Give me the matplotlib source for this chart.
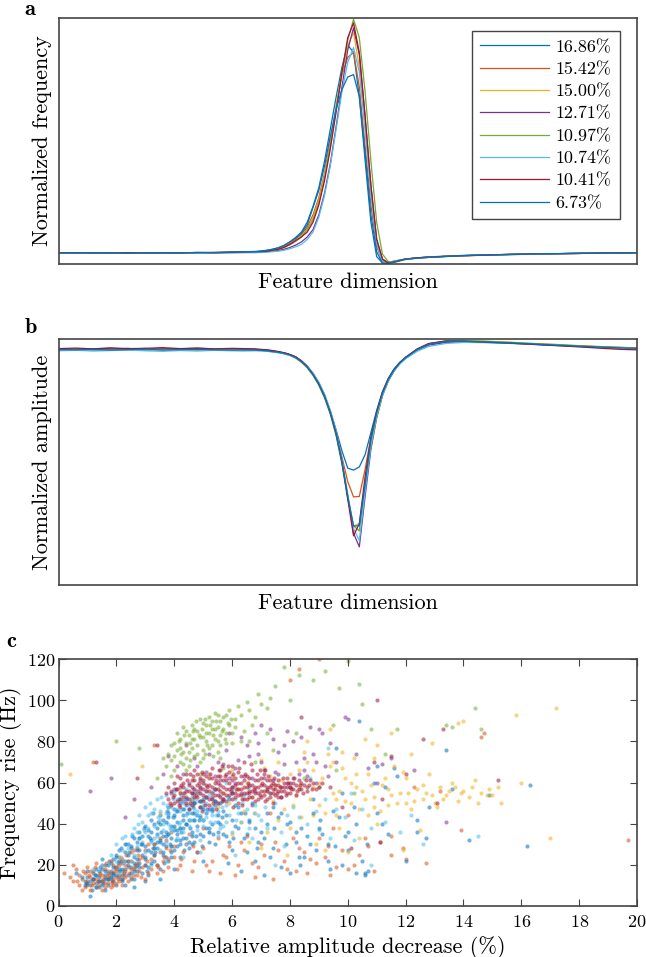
import matplotlib
matplotlib.use("Agg")
import numpy as np
import matplotlib.pyplot as plt

plt.rcParams["font.family"] = ["cmr10", "DejaVu Serif"]
plt.rcParams["mathtext.fontset"] = "cm"
plt.rcParams["axes.unicode_minus"] = False
plt.rcParams["axes.formatter.use_mathtext"] = True

# matlab default colour order, 8th series wraps back to blue
colors = ["#0072BD", "#D95319", "#EDB120", "#7E2F8E", "#77AC30", "#4DBEEE", "#A2142F", "#0072BD"]
labels = ["16.86%", "15.42%", "15.00%", "12.71%", "10.97%", "10.74%", "10.41%", "6.73%"]

# feature dimension sample positions (shared by panels a and b)
feat = [0, 3, 6, 9, 12, 15, 18, 21, 24, 27, 30, 32,
        34, 35, 36, 37, 38, 39, 40, 41, 42, 43, 44, 45, 46, 47, 48, 49, 50,
        51, 52, 53, 54, 55, 56, 57, 58, 59, 60,
        62, 64, 67, 70, 74, 78, 82, 86, 90, 94, 97, 100]

# panel a: normalized frequency
freq_1686 = [0.045, 0.046, 0.044, 0.046, 0.045, 0.044, 0.046, 0.045, 0.047, 0.046, 0.049, 0.050,
             0.051, 0.053, 0.056, 0.060, 0.066, 0.075, 0.090, 0.108, 0.130, 0.170, 0.235, 0.310, 0.420, 0.550, 0.680,
             0.800, 0.890, 0.860, 0.680, 0.420, 0.170, 0.030, 0.004, 0.006, 0.012, 0.016, 0.020,
             0.024, 0.027, 0.031, 0.034, 0.037, 0.039, 0.041, 0.042, 0.043, 0.044, 0.045, 0.046]
freq_1542 = [0.046, 0.045, 0.045, 0.044, 0.046, 0.045, 0.045, 0.046, 0.046, 0.047, 0.048, 0.049,
             0.050, 0.051, 0.053, 0.057, 0.062, 0.070, 0.084, 0.100, 0.120, 0.150, 0.200, 0.270, 0.370, 0.500, 0.640,
             0.770, 0.840, 0.860, 0.720, 0.480, 0.240, 0.070, 0.012, 0.005, 0.010, 0.016, 0.020,
             0.025, 0.028, 0.031, 0.033, 0.036, 0.039, 0.040, 0.042, 0.043, 0.044, 0.045, 0.045]
freq_1500 = [0.044, 0.045, 0.046, 0.045, 0.044, 0.045, 0.046, 0.046, 0.045, 0.047, 0.047, 0.048,
             0.049, 0.050, 0.052, 0.055, 0.060, 0.068, 0.080, 0.095, 0.115, 0.140, 0.190, 0.260, 0.360, 0.490, 0.630,
             0.770, 0.890, 0.940, 0.800, 0.550, 0.290, 0.090, 0.016, 0.006, 0.010, 0.015, 0.020,
             0.024, 0.028, 0.032, 0.034, 0.036, 0.038, 0.041, 0.042, 0.044, 0.044, 0.045, 0.046]
freq_1271 = [0.045, 0.044, 0.045, 0.046, 0.045, 0.046, 0.044, 0.045, 0.046, 0.045, 0.046, 0.047,
             0.047, 0.048, 0.050, 0.052, 0.055, 0.060, 0.067, 0.077, 0.090, 0.110, 0.140, 0.200, 0.290, 0.410, 0.560,
             0.720, 0.870, 0.960, 0.850, 0.600, 0.320, 0.100, 0.020, 0.005, 0.008, 0.014, 0.020,
             0.025, 0.029, 0.032, 0.035, 0.037, 0.039, 0.040, 0.042, 0.043, 0.044, 0.044, 0.045]
freq_1097 = [0.046, 0.045, 0.044, 0.045, 0.045, 0.046, 0.045, 0.044, 0.046, 0.046, 0.047, 0.047,
             0.048, 0.050, 0.053, 0.056, 0.060, 0.067, 0.078, 0.092, 0.110, 0.140, 0.180, 0.250, 0.350, 0.480, 0.630,
             0.780, 0.910, 0.995, 0.920, 0.700, 0.420, 0.170, 0.040, 0.010, 0.006, 0.012, 0.018,
             0.023, 0.027, 0.030, 0.034, 0.036, 0.038, 0.040, 0.041, 0.043, 0.044, 0.045, 0.046]
freq_1074 = [0.044, 0.045, 0.045, 0.044, 0.045, 0.044, 0.045, 0.046, 0.045, 0.045, 0.046, 0.046,
             0.046, 0.047, 0.048, 0.050, 0.052, 0.056, 0.062, 0.070, 0.080, 0.100, 0.130, 0.190, 0.280, 0.400, 0.550,
             0.700, 0.820, 0.880, 0.780, 0.550, 0.280, 0.080, 0.010, 0.002, 0.008, 0.014, 0.020,
             0.024, 0.028, 0.031, 0.034, 0.037, 0.038, 0.040, 0.042, 0.043, 0.044, 0.045, 0.045]
freq_1041 = [0.046, 0.046, 0.045, 0.045, 0.046, 0.045, 0.046, 0.045, 0.047, 0.046, 0.048, 0.049,
             0.050, 0.050, 0.052, 0.056, 0.060, 0.068, 0.080, 0.095, 0.110, 0.130, 0.170, 0.240, 0.340, 0.470, 0.620,
             0.780, 0.920, 0.980, 0.860, 0.600, 0.320, 0.100, 0.020, 0.004, 0.008, 0.014, 0.020,
             0.025, 0.028, 0.031, 0.034, 0.036, 0.039, 0.041, 0.042, 0.043, 0.045, 0.045, 0.046]
freq_673 = [0.045, 0.045, 0.046, 0.045, 0.044, 0.045, 0.045, 0.046, 0.046, 0.047, 0.048, 0.050,
            0.050, 0.052, 0.055, 0.060, 0.066, 0.076, 0.090, 0.105, 0.125, 0.160, 0.230, 0.300, 0.400, 0.520, 0.630,
            0.710, 0.760, 0.770, 0.680, 0.450, 0.200, 0.050, 0.003, 0.002, 0.008, 0.014, 0.020,
            0.024, 0.027, 0.031, 0.034, 0.037, 0.039, 0.041, 0.042, 0.044, 0.044, 0.045, 0.046]

# panel b: normalized amplitude
amp_1686 = [0.957, 0.960, 0.955, 0.958, 0.962, 0.956, 0.959, 0.961, 0.957, 0.960, 0.958, 0.955,
            0.956, 0.955, 0.953, 0.950, 0.947, 0.943, 0.936, 0.926, 0.910, 0.888, 0.858, 0.820, 0.770, 0.705, 0.630,
            0.545, 0.475, 0.467, 0.480, 0.530, 0.620, 0.710, 0.785, 0.840, 0.878, 0.905, 0.925,
            0.958, 0.978, 0.988, 0.990, 0.986, 0.983, 0.979, 0.975, 0.970, 0.967, 0.964, 0.962]
amp_1542 = [0.960, 0.958, 0.961, 0.957, 0.959, 0.962, 0.958, 0.960, 0.963, 0.959, 0.957, 0.959,
            0.958, 0.956, 0.954, 0.951, 0.947, 0.942, 0.935, 0.925, 0.908, 0.886, 0.855, 0.816, 0.765, 0.700, 0.620,
            0.520, 0.420, 0.358, 0.360, 0.470, 0.600, 0.700, 0.780, 0.835, 0.875, 0.903, 0.924,
            0.957, 0.980, 0.991, 0.992, 0.989, 0.985, 0.980, 0.976, 0.971, 0.968, 0.966, 0.963]
amp_1500 = [0.956, 0.958, 0.960, 0.955, 0.957, 0.959, 0.956, 0.958, 0.957, 0.961, 0.956, 0.955,
            0.955, 0.954, 0.952, 0.949, 0.946, 0.941, 0.934, 0.923, 0.906, 0.884, 0.853, 0.813, 0.762, 0.695, 0.610,
            0.500, 0.360, 0.240, 0.250, 0.420, 0.580, 0.690, 0.775, 0.832, 0.873, 0.902, 0.923,
            0.956, 0.979, 0.992, 0.993, 0.990, 0.986, 0.981, 0.977, 0.972, 0.968, 0.965, 0.963]
amp_1271 = [0.959, 0.957, 0.960, 0.962, 0.958, 0.956, 0.960, 0.957, 0.959, 0.958, 0.960, 0.958,
            0.957, 0.956, 0.955, 0.952, 0.948, 0.944, 0.937, 0.928, 0.912, 0.890, 0.860, 0.822, 0.772, 0.705, 0.620,
            0.500, 0.360, 0.210, 0.155, 0.360, 0.550, 0.680, 0.770, 0.830, 0.870, 0.900, 0.922,
            0.953, 0.975, 0.986, 0.989, 0.987, 0.984, 0.979, 0.974, 0.970, 0.966, 0.963, 0.961]
amp_1097 = [0.955, 0.957, 0.954, 0.958, 0.956, 0.955, 0.958, 0.956, 0.954, 0.957, 0.956, 0.954,
            0.954, 0.953, 0.951, 0.948, 0.945, 0.940, 0.933, 0.922, 0.905, 0.883, 0.852, 0.812, 0.760, 0.693, 0.605,
            0.490, 0.350, 0.240, 0.220, 0.400, 0.560, 0.680, 0.770, 0.828, 0.870, 0.900, 0.921,
            0.955, 0.980, 0.993, 0.994, 0.991, 0.987, 0.982, 0.978, 0.973, 0.969, 0.966, 0.964]
amp_1074 = [0.952, 0.954, 0.951, 0.953, 0.955, 0.952, 0.950, 0.953, 0.951, 0.954, 0.952, 0.951,
            0.952, 0.951, 0.950, 0.947, 0.944, 0.940, 0.934, 0.925, 0.910, 0.890, 0.862, 0.825, 0.776, 0.710, 0.625,
            0.510, 0.370, 0.230, 0.180, 0.380, 0.570, 0.690, 0.775, 0.830, 0.870, 0.898, 0.920,
            0.950, 0.970, 0.982, 0.986, 0.985, 0.982, 0.978, 0.974, 0.969, 0.965, 0.962, 0.960]
amp_1041 = [0.961, 0.963, 0.960, 0.964, 0.961, 0.962, 0.965, 0.961, 0.963, 0.960, 0.962, 0.961,
            0.960, 0.958, 0.956, 0.953, 0.949, 0.944, 0.937, 0.927, 0.910, 0.887, 0.856, 0.817, 0.766, 0.700, 0.615,
            0.500, 0.350, 0.200, 0.250, 0.440, 0.600, 0.705, 0.785, 0.838, 0.877, 0.905, 0.926,
            0.960, 0.982, 0.992, 0.991, 0.987, 0.983, 0.978, 0.973, 0.968, 0.962, 0.958, 0.956]
amp_673 = [0.957, 0.956, 0.958, 0.955, 0.957, 0.959, 0.955, 0.957, 0.958, 0.956, 0.955, 0.956,
           0.955, 0.954, 0.952, 0.949, 0.946, 0.942, 0.935, 0.925, 0.908, 0.886, 0.855, 0.816, 0.765, 0.698, 0.612,
           0.500, 0.360, 0.240, 0.240, 0.410, 0.590, 0.700, 0.780, 0.835, 0.875, 0.903, 0.924,
           0.957, 0.979, 0.990, 0.991, 0.988, 0.984, 0.980, 0.975, 0.971, 0.967, 0.964, 0.962]

freq_curves = [freq_1686, freq_1542, freq_1500, freq_1271, freq_1097, freq_1074, freq_1041, freq_673]
amp_curves = [amp_1686, amp_1542, amp_1500, amp_1271, amp_1097, amp_1074, amp_1041, amp_673]

# panel c: (relative amplitude decrease %, frequency rise Hz) per recording
pts_1686 = [(0.9, 12), (1.0, 14), (1.1, 10), (1.2, 13), (1.2, 16), (1.3, 11), (1.4, 14), (1.5, 12), (1.5, 18),
            (1.6, 15), (1.7, 10), (1.7, 13), (1.8, 17), (1.8, 21), (1.9, 12), (1.9, 15), (2.0, 19), (2.0, 24),
            (2.1, 14), (2.1, 17), (2.2, 21), (2.2, 12), (2.3, 18), (2.3, 26), (2.4, 15), (2.4, 22), (2.5, 19),
            (2.5, 29), (2.6, 13), (2.6, 24), (2.7, 17), (2.7, 31), (2.8, 21), (2.8, 27), (2.9, 16), (2.9, 34),
            (3.0, 23), (3.0, 29), (3.1, 19), (3.1, 37), (3.2, 26), (3.2, 32), (3.3, 22), (3.3, 40), (3.4, 28),
            (3.4, 35), (3.5, 18), (3.5, 31), (3.6, 42), (3.6, 25), (3.7, 36), (3.7, 29), (3.8, 45), (3.8, 22),
            (3.9, 33), (3.9, 39), (4.0, 27), (4.0, 47), (4.1, 35), (4.1, 41), (4.2, 30), (4.2, 24), (4.3, 44),
            (4.3, 38), (4.4, 33), (4.4, 49), (4.5, 28), (4.5, 42), (4.6, 36), (4.6, 51), (4.7, 31), (4.7, 45),
            (4.8, 39), (4.8, 26), (4.9, 48), (5.0, 34), (5.0, 42), (5.1, 53), (5.2, 38), (5.3, 46), (5.4, 30),
            (5.5, 41), (5.6, 50), (5.7, 35), (5.8, 44), (6.0, 27), (6.1, 39), (6.2, 48), (6.4, 33), (6.6, 42),
            (6.8, 22), (7.0, 36), (7.2, 45), (7.4, 28), (7.7, 19), (7.9, 40), (8.2, 31), (8.5, 24), (8.8, 52),
            (9.1, 35), (9.4, 18), (9.7, 43), (10.0, 27), (10.3, 16), (10.5, 22), (10.7, 17), (10.9, 60),
            (11.2, 40), (11.6, 67), (12.4, 36), (12.7, 33), (13.4, 76), (14.2, 32), (14.9, 54), (16.2, 29),
            (16.3, 59), (1.6, 8), (2.3, 10), (0.6, 16), (3.0, 12), (10.4, 90), (9.6, 77),
            (1.0, 17), (1.1, 12), (1.3, 18), (1.4, 9), (1.6, 20), (1.7, 16), (1.9, 23), (2.0, 10), (2.1, 27),
            (2.2, 15), (2.4, 30), (2.5, 13), (2.6, 33), (2.7, 20), (2.8, 36), (2.9, 25), (3.0, 39), (3.1, 15),
            (3.2, 42), (3.3, 30), (3.4, 20), (3.5, 44), (3.6, 34), (3.7, 24), (3.8, 48), (3.9, 26), (4.0, 37),
            (4.1, 29), (4.2, 50), (4.3, 33), (4.4, 40), (4.5, 47), (4.6, 30), (4.7, 55), (4.8, 44), (4.9, 35),
            (5.0, 52), (5.1, 45), (5.2, 31), (5.3, 40), (5.4, 49), (5.5, 36), (5.7, 46), (5.9, 31), (6.0, 55),
            (6.2, 38), (6.5, 26), (6.7, 50), (6.9, 31), (7.3, 24), (7.6, 43), (8.0, 16), (8.4, 38), (8.9, 27),
            (9.3, 22), (9.8, 55), (10.2, 48), (10.6, 16), (11.0, 68), (11.4, 35), (12.8, 48), (11.7, 63),
            (13.6, 57), (3.5, 13), (2.6, 9), (4.0, 18), (5.0, 22), (6.3, 17), (8.7, 30), (9.9, 34),
            (1.15, 8), (1.25, 15), (1.45, 19), (1.55, 11), (1.75, 22), (1.85, 12), (2.05, 21), (2.15, 28),
            (2.25, 16), (2.45, 26), (2.55, 34), (2.65, 19), (2.85, 30), (2.95, 38), (3.05, 17), (3.15, 33),
            (3.25, 45), (3.35, 26), (3.45, 41), (3.55, 36), (3.65, 21), (3.75, 46), (3.85, 30), (3.95, 43),
            (4.05, 32), (4.15, 52), (4.25, 36), (4.35, 27), (4.45, 45), (4.55, 38), (4.65, 48), (4.75, 34),
            (4.85, 42), (4.95, 29), (5.15, 47), (5.35, 35), (5.65, 43), (6.05, 33), (6.45, 45), (6.85, 28),
            (7.45, 38), (7.85, 30), (8.35, 20), (9.05, 42), (9.55, 29), (10.65, 30), (5.85, 21), (7.1, 15)]
pts_1542 = [(0.2, 16), (0.4, 14), (0.5, 12), (0.6, 18), (0.7, 10), (0.8, 13), (0.9, 9), (0.9, 16), (1.0, 12),
            (1.0, 19), (1.1, 8), (1.1, 14), (1.2, 11), (1.2, 17), (1.3, 9), (1.3, 13), (1.4, 15), (1.4, 10),
            (1.5, 12), (1.5, 20), (1.6, 9), (1.6, 14), (1.7, 17), (1.7, 11), (1.8, 13), (1.8, 22), (1.9, 10),
            (1.9, 16), (2.0, 14), (2.0, 19), (2.1, 12), (2.1, 24), (2.2, 17), (2.2, 10), (2.3, 20), (2.3, 14),
            (2.4, 22), (2.4, 12), (2.5, 18), (2.5, 26), (2.6, 15), (2.7, 21), (2.7, 28), (2.8, 17), (2.9, 24),
            (3.0, 13), (3.0, 20), (3.1, 30), (3.2, 18), (3.3, 25), (3.4, 16), (3.5, 33), (3.6, 22), (3.7, 28),
            (3.8, 19), (3.9, 36), (4.0, 24), (4.2, 20), (4.4, 30), (4.6, 17), (4.8, 26), (5.0, 38), (5.3, 22),
            (5.6, 16), (5.9, 29), (6.2, 20), (6.5, 34), (6.8, 14), (7.1, 25), (7.5, 31), (7.9, 18), (8.3, 28),
            (8.7, 23), (9.0, 33), (9.4, 15), (9.8, 27), (10.2, 20), (10.7, 29), (11.1, 31), (11.5, 25),
            (12.0, 23), (13.9, 37), (19.7, 32), (1.2, 70), (3.3, 78), (8.0, 110), (8.3, 115), (9.0, 120),
            (6.0, 63), (7.3, 45), (10.0, 44), (12.3, 58), (13.2, 56), (14.7, 84), (14.6, 82),
            (0.5, 20), (0.7, 15), (0.8, 8), (1.0, 10), (1.1, 17), (1.2, 13), (1.3, 21), (1.4, 12), (1.5, 8),
            (1.5, 15), (1.6, 11), (1.6, 18), (1.7, 14), (1.8, 9), (1.8, 16), (1.9, 20), (1.9, 13), (2.0, 11),
            (2.0, 17), (2.1, 15), (2.1, 20), (2.2, 13), (2.2, 23), (2.3, 17), (2.4, 19), (2.5, 14), (2.5, 22),
            (2.6, 18), (2.6, 27), (2.7, 15), (2.8, 23), (2.9, 19), (3.0, 27), (3.1, 16), (3.2, 23), (3.3, 30),
            (3.4, 20), (3.5, 26), (3.6, 17), (3.7, 32), (3.8, 23), (4.0, 29), (4.1, 18), (4.3, 26), (4.5, 35),
            (4.7, 22), (5.0, 28), (5.2, 17), (5.5, 33), (5.8, 24), (6.1, 15), (6.4, 27), (6.7, 21), (7.0, 30),
            (7.4, 13), (7.8, 22), (8.2, 17), (8.5, 26), (8.9, 21), (9.3, 29), (9.6, 19), (10.4, 25),
            (10.9, 17), (11.5, 34), (12.7, 21),
            (0.65, 12), (0.85, 17), (0.95, 11), (1.05, 15), (1.15, 10), (1.25, 19), (1.35, 12), (1.45, 16),
            (1.55, 13), (1.65, 21), (1.75, 15), (1.85, 11), (1.95, 18), (2.05, 13), (2.15, 22), (2.25, 15),
            (2.35, 25), (2.45, 16), (2.65, 20), (2.75, 25), (2.85, 14), (3.05, 22), (3.25, 28), (3.45, 19),
            (3.65, 24), (3.85, 27), (4.25, 23), (4.65, 29), (5.1, 20), (5.7, 25), (6.3, 31), (6.9, 19),
            (7.6, 27), (8.1, 33), (9.2, 24), (10.0, 18), (10.6, 33), (11.9, 28), (9.5, 38), (8.6, 16)]
pts_1500 = [(0.4, 64), (2.9, 68), (3.5, 45), (4.2, 56), (5.0, 60), (5.5, 48), (6.0, 66), (6.3, 41), (6.7, 53),
            (7.0, 71), (7.2, 36), (7.5, 59), (7.8, 47), (8.0, 64), (8.2, 54), (8.4, 43), (8.6, 70), (8.8, 58),
            (9.0, 49), (9.1, 62), (9.3, 74), (9.5, 55), (9.6, 44), (9.8, 67), (9.9, 51), (10.1, 60), (10.2, 72),
            (10.4, 47), (10.5, 56), (10.7, 64), (10.9, 53), (11.0, 78), (11.2, 59), (11.4, 49), (11.6, 68),
            (11.8, 55), (12.0, 62), (12.2, 47), (12.4, 57), (12.6, 52), (12.8, 64), (13.0, 50), (13.2, 58),
            (13.4, 54), (13.6, 60), (13.8, 51), (14.0, 56), (14.2, 53), (14.4, 61), (14.6, 55), (14.9, 57),
            (15.0, 54), (15.2, 58), (15.8, 93), (16.0, 60), (17.0, 33), (17.2, 96), (11.9, 27), (10.0, 26),
            (8.9, 30), (9.7, 38), (7.9, 25), (6.6, 31), (12.5, 37), (13.8, 89), (14.0, 90), (10.6, 81),
            (8.5, 75), (9.4, 86), (12.9, 79), (11.5, 84), (5.7, 55), (6.5, 60), (7.3, 63),
            (4.6, 52), (5.2, 64), (5.9, 50), (6.2, 57), (6.8, 45), (7.1, 67), (7.4, 51), (7.7, 61), (8.1, 49),
            (8.3, 66), (8.7, 52), (9.0, 60), (9.2, 45), (9.4, 68), (9.7, 56), (9.9, 62), (10.1, 50), (10.3, 64),
            (10.6, 52), (10.8, 59), (11.1, 46), (11.3, 62), (11.5, 54), (11.7, 50), (12.1, 55), (12.3, 51),
            (12.6, 59), (12.9, 54), (13.1, 48), (13.5, 56), (13.9, 55), (14.3, 58), (14.8, 54), (15.3, 50),
            (8.0, 38), (9.2, 27), (10.4, 33), (7.0, 28), (11.0, 40), (6.0, 35), (9.8, 75), (10.9, 72),
            (8.6, 80), (12.2, 74), (7.6, 70),
            (6.4, 46), (7.6, 42), (8.3, 58), (8.8, 44), (9.6, 52), (10.3, 58), (10.9, 48), (11.4, 57),
            (11.9, 65), (12.7, 55), (13.3, 52), (13.7, 58), (14.5, 50), (7.2, 56), (8.8, 66), (9.5, 70),
            (10.7, 44), (12.0, 50)]
pts_1271 = [(1.1, 56), (1.8, 62), (2.6, 52), (3.2, 58), (3.6, 64), (3.9, 55), (4.1, 68), (4.3, 51), (4.5, 60),
            (4.7, 72), (4.9, 57), (5.1, 65), (5.3, 53), (5.5, 70), (5.6, 61), (5.8, 76), (6.0, 58), (6.1, 67),
            (6.3, 82), (6.4, 63), (6.6, 73), (6.8, 56), (6.9, 79), (7.1, 66), (7.3, 86), (7.4, 61), (7.6, 75),
            (7.8, 69), (8.0, 58), (8.1, 80), (8.3, 64), (8.5, 72), (8.7, 87), (8.9, 60), (9.0, 86), (9.2, 68),
            (9.9, 92), (10.0, 91), (11.0, 60), (11.2, 69), (13.4, 41), (12.3, 66), (7.0, 88), (5.9, 84),
            (4.4, 78), (3.8, 73), (2.3, 43), (5.2, 47), (6.7, 49), (7.7, 53),
            (4.0, 57), (4.3, 64), (4.6, 55), (4.8, 68), (5.0, 60), (5.2, 74), (5.4, 57), (5.7, 69), (5.9, 62),
            (6.2, 71), (6.3, 55), (6.5, 78), (6.7, 62), (6.8, 84), (7.0, 70), (7.2, 57), (7.4, 81), (7.5, 65),
            (7.8, 78), (7.9, 60), (8.2, 70), (8.4, 82), (8.6, 63), (8.8, 74), (9.1, 84), (9.4, 79), (9.6, 70),
            (10.3, 74), (10.7, 67), (11.5, 72),
            (4.2, 58), (4.9, 61), (5.4, 63), (5.7, 52), (6.1, 60), (6.6, 55), (7.1, 62), (7.6, 64), (8.1, 62),
            (8.5, 66), (9.3, 63), (6.9, 74), (7.9, 85), (8.9, 70)]
pts_1097 = [(3.7, 68), (3.8, 74), (3.9, 71), (4.0, 79), (4.0, 66), (4.1, 76), (4.1, 84), (4.2, 70), (4.2, 81),
            (4.3, 75), (4.3, 87), (4.4, 72), (4.4, 79), (4.5, 83), (4.5, 68), (4.6, 77), (4.6, 88), (4.7, 81),
            (4.7, 73), (4.8, 85), (4.8, 78), (4.9, 91), (4.9, 70), (5.0, 82), (5.0, 76), (5.1, 88), (5.1, 80),
            (5.2, 84), (5.2, 92), (5.3, 78), (5.3, 86), (5.4, 81), (5.4, 94), (5.5, 87), (5.5, 75), (5.6, 90),
            (5.6, 83), (5.7, 86), (5.8, 79), (5.8, 93), (5.9, 88), (6.0, 84), (6.1, 91), (6.2, 97), (6.3, 80),
            (6.5, 99), (6.7, 88), (6.9, 103), (7.2, 96), (7.5, 107), (7.8, 116), (8.0, 100), (8.3, 112),
            (8.8, 110), (9.2, 114), (9.7, 106), (10.0, 119), (10.4, 108), (10.5, 98), (10.8, 86), (9.5, 88),
            (8.5, 62), (9.0, 58), (9.6, 66), (10.2, 55), (11.3, 74), (11.7, 86), (13.4, 88), (13.6, 87),
            (14.4, 96), (14.6, 86), (2.0, 80), (0.1, 69), (2.8, 77), (3.4, 62), (4.9, 64), (5.7, 67), (6.8, 70),
            (7.4, 76), (8.2, 84),
            (3.6, 72), (3.9, 78), (4.0, 73), (4.2, 77), (4.3, 69), (4.4, 85), (4.5, 75), (4.6, 81), (4.7, 86),
            (4.8, 74), (4.9, 82), (5.0, 89), (5.0, 72), (5.1, 84), (5.2, 77), (5.3, 90), (5.4, 86), (5.5, 80),
            (5.5, 93), (5.6, 78), (5.7, 92), (5.8, 84), (5.9, 95), (6.0, 79), (6.1, 87), (6.3, 93), (6.4, 85),
            (6.6, 95), (6.8, 92), (7.0, 98), (7.3, 101), (5.6, 72), (4.4, 66), (3.9, 63), (7.2, 84), (6.6, 80),
            (4.15, 80), (4.35, 83), (4.55, 79), (4.65, 85), (4.75, 90), (4.85, 83), (4.95, 86), (5.05, 91),
            (5.15, 78), (5.25, 88), (5.35, 83), (5.45, 90), (5.65, 85), (5.75, 81), (5.85, 89), (5.95, 91),
            (4.55, 71), (5.05, 74), (5.35, 73), (4.25, 74)]
pts_1074 = [(1.5, 20), (1.8, 25), (2.0, 30), (2.2, 27), (2.3, 34), (2.5, 22), (2.6, 38), (2.7, 29), (2.8, 33),
            (2.9, 41), (3.0, 26), (3.0, 36), (3.1, 44), (3.2, 31), (3.3, 39), (3.3, 47), (3.4, 34), (3.5, 27),
            (3.5, 42), (3.6, 37), (3.6, 50), (3.7, 31), (3.7, 45), (3.8, 40), (3.8, 35), (3.9, 48), (3.9, 29),
            (4.0, 43), (4.0, 38), (4.1, 52), (4.1, 33), (4.2, 46), (4.2, 41), (4.3, 36), (4.3, 55), (4.4, 44),
            (4.4, 30), (4.5, 49), (4.5, 39), (4.6, 35), (4.6, 53), (4.7, 42), (4.7, 47), (4.8, 37), (4.8, 51),
            (4.9, 32), (4.9, 44), (5.0, 49), (5.0, 39), (5.1, 56), (5.1, 43), (5.2, 36), (5.3, 48), (5.3, 52),
            (5.4, 41), (5.5, 46), (5.5, 34), (5.6, 54), (5.7, 39), (5.8, 49), (5.9, 44), (6.0, 36), (6.1, 52),
            (6.3, 41), (6.5, 47), (6.7, 33), (6.9, 44), (7.2, 38), (7.5, 50), (7.8, 29), (8.3, 43), (9.0, 37),
            (9.6, 47), (10.2, 32), (10.8, 38), (11.3, 41), (12.6, 30), (14.5, 34), (2.1, 16), (1.2, 18),
            (5.8, 60), (6.6, 58), (8.7, 62), (9.3, 77), (10.8, 20),
            (1.8, 14), (2.0, 22), (2.2, 33), (2.4, 28), (2.6, 25), (2.7, 36), (2.8, 44), (2.9, 31), (3.0, 48),
            (3.1, 38), (3.2, 45), (3.3, 33), (3.4, 52), (3.5, 46), (3.6, 40), (3.7, 54), (3.8, 44), (3.9, 37),
            (4.0, 56), (4.1, 47), (4.2, 38), (4.3, 50), (4.4, 57), (4.5, 45), (4.6, 42), (4.7, 52), (4.8, 46),
            (4.9, 58), (5.0, 42), (5.1, 50), (5.2, 54), (5.3, 44), (5.4, 57), (5.5, 50), (5.6, 38), (5.7, 51),
            (5.8, 41), (6.0, 57), (6.2, 45), (6.4, 54), (6.6, 38), (6.8, 49), (7.0, 42), (7.3, 55), (7.7, 36),
            (8.1, 48), (8.6, 40), (9.2, 52), (9.9, 43), (10.5, 47), (11.8, 36), (12.2, 44), (7.5, 20), (6.1, 25),
            (4.3, 24), (3.2, 20),
            (2.15, 24), (2.35, 30), (2.55, 35), (2.75, 40), (2.95, 37), (3.15, 50), (3.25, 28), (3.45, 43),
            (3.55, 53), (3.75, 49), (3.85, 38), (3.95, 52), (4.05, 46), (4.15, 40), (4.25, 54), (4.35, 47),
            (4.45, 52), (4.55, 42), (4.65, 57), (4.75, 44), (4.85, 55), (4.95, 48), (5.05, 53), (5.15, 46),
            (5.25, 41), (5.35, 56), (5.45, 44), (5.65, 48), (5.85, 53), (6.15, 42), (6.35, 50), (6.75, 45),
            (7.15, 48), (7.9, 44), (8.9, 46), (9.4, 33), (10.1, 55), (4.9, 26), (3.7, 22)]
pts_1041 = [(3.8, 52), (3.9, 56), (3.9, 49), (4.0, 54), (4.0, 60), (4.1, 51), (4.1, 57), (4.2, 48), (4.2, 55),
            (4.2, 62), (4.3, 53), (4.3, 58), (4.4, 50), (4.4, 56), (4.4, 64), (4.5, 52), (4.5, 59), (4.5, 47),
            (4.6, 55), (4.6, 61), (4.7, 50), (4.7, 57), (4.7, 66), (4.8, 53), (4.8, 59), (4.9, 48), (4.9, 55),
            (4.9, 62), (5.0, 51), (5.0, 57), (5.0, 64), (5.1, 53), (5.1, 59), (5.2, 49), (5.2, 56), (5.2, 62),
            (5.3, 52), (5.3, 58), (5.3, 67), (5.4, 54), (5.4, 60), (5.5, 50), (5.5, 57), (5.5, 63), (5.6, 53),
            (5.6, 59), (5.6, 66), (5.7, 55), (5.7, 61), (5.8, 51), (5.8, 57), (5.8, 64), (5.9, 54), (5.9, 60),
            (6.0, 52), (6.0, 58), (6.0, 68), (6.1, 55), (6.1, 62), (6.2, 50), (6.2, 57), (6.2, 65), (6.3, 54),
            (6.3, 60), (6.4, 52), (6.4, 58), (6.4, 70), (6.5, 55), (6.5, 63), (6.6, 53), (6.6, 59), (6.7, 56),
            (6.7, 66), (6.8, 51), (6.8, 58), (6.9, 55), (6.9, 61), (7.0, 53), (7.0, 59), (7.1, 56), (7.1, 64),
            (7.2, 52), (7.2, 58), (7.3, 55), (7.3, 61), (7.4, 57), (7.4, 50), (7.5, 59), (7.5, 54), (7.6, 56),
            (7.6, 61), (7.7, 58), (7.7, 53), (7.8, 60), (7.8, 56), (7.9, 58), (7.9, 62), (8.0, 55), (8.0, 60),
            (8.1, 57), (8.2, 59), (8.2, 54), (8.3, 61), (8.4, 57), (8.5, 59), (8.6, 56), (8.8, 60), (9.0, 58),
            (1.3, 70), (2.7, 62), (3.4, 78), (11.0, 100), (12.6, 81), (11.5, 73), (13.3, 86), (13.1, 50),
            (15.2, 61), (11.2, 52), (9.8, 48), (10.9, 70), (12.0, 64), (8.4, 92), (9.4, 58), (11.1, 31),
            (10.1, 28),
            (3.7, 55), (3.8, 58), (4.0, 50), (4.1, 63), (4.2, 52), (4.3, 60), (4.4, 53), (4.5, 56), (4.6, 49),
            (4.6, 58), (4.7, 53), (4.7, 61), (4.8, 56), (4.8, 64), (4.9, 51), (4.9, 58), (5.0, 54), (5.0, 61),
            (5.1, 56), (5.1, 63), (5.2, 52), (5.2, 59), (5.3, 55), (5.3, 62), (5.4, 51), (5.4, 57), (5.5, 54),
            (5.5, 60), (5.6, 56), (5.6, 63), (5.7, 52), (5.7, 58), (5.8, 54), (5.8, 61), (5.9, 57), (5.9, 65),
            (6.0, 55), (6.0, 61), (6.1, 53), (6.1, 59), (6.2, 54), (6.2, 60), (6.3, 57), (6.3, 63), (6.4, 55),
            (6.4, 61), (6.5, 52), (6.5, 58), (6.6, 56), (6.6, 62), (6.7, 53), (6.7, 59), (6.8, 55), (6.8, 61),
            (6.9, 58), (6.9, 52), (7.0, 56), (7.0, 62), (7.1, 54), (7.1, 59), (7.2, 56), (7.2, 61), (7.3, 53),
            (7.3, 58), (7.4, 55), (7.4, 60), (7.5, 57), (7.6, 53), (7.6, 59), (7.7, 56), (7.8, 58), (7.9, 55),
            (8.0, 58), (8.1, 60), (8.3, 57), (8.4, 60), (8.6, 58), (8.7, 61), (8.9, 57), (9.1, 60),
            (3.85, 50), (3.95, 53), (4.05, 57), (4.15, 49), (4.25, 59), (4.35, 55), (4.45, 61), (4.55, 50),
            (4.65, 63), (4.75, 54), (4.85, 60), (4.95, 65), (5.05, 49), (5.15, 58), (5.25, 64), (5.35, 50),
            (5.45, 61), (5.55, 66), (5.65, 51), (5.75, 63), (5.85, 68), (5.95, 56), (6.05, 64), (6.15, 57),
            (6.25, 67), (6.35, 52), (6.45, 64), (6.55, 60), (6.65, 69), (6.75, 57), (6.85, 64), (6.95, 54),
            (7.05, 60), (7.15, 51), (7.25, 63), (7.35, 59), (7.45, 62), (7.55, 55), (7.65, 58), (7.75, 62),
            (7.85, 54), (7.95, 60), (8.05, 57), (8.15, 62), (8.25, 56), (8.35, 59), (8.45, 55), (8.55, 61),
            (8.65, 59), (8.75, 57), (4.55, 64), (5.45, 47), (6.05, 48), (6.95, 66), (5.65, 68), (4.95, 46),
            (7.15, 66), (6.35, 49)]
pts_673 = [(0.8, 14), (1.0, 11), (1.1, 5), (1.3, 15), (1.4, 12), (1.6, 17), (1.7, 13), (1.9, 19), (2.0, 15),
           (2.1, 22), (2.2, 18), (2.4, 25), (2.5, 16), (2.6, 21), (2.7, 27), (2.8, 19), (2.9, 30), (3.0, 24),
           (3.1, 34), (3.2, 21), (3.3, 28), (3.4, 38), (3.5, 32), (3.6, 26), (3.7, 41), (3.8, 35), (3.9, 29),
           (4.0, 44), (4.1, 37), (4.2, 32), (4.3, 47), (4.4, 40), (4.6, 34), (4.7, 50), (4.9, 43), (5.1, 38),
           (5.3, 47), (5.6, 40), (5.9, 52), (6.3, 45), (6.8, 38), (7.4, 48), (8.0, 41), (8.6, 34), (9.5, 46),
           (10.3, 40), (11.0, 45), (12.0, 22), (1.5, 23), (2.3, 30),
           (0.9, 10), (1.2, 13), (1.4, 17), (1.5, 10), (1.7, 20), (1.8, 14), (2.0, 25), (2.2, 13), (2.3, 22),
           (2.5, 28), (2.6, 17), (2.8, 33), (3.0, 20), (3.2, 36), (3.3, 25), (3.5, 40), (3.6, 30), (3.8, 43),
           (3.9, 24), (4.1, 46), (4.2, 38), (4.4, 52), (4.5, 31), (4.7, 42), (4.9, 51), (5.2, 36), (5.5, 44),
           (5.8, 34), (6.1, 49), (6.6, 41), (7.1, 33), (7.7, 45), (8.3, 24), (9.0, 38), (9.8, 20), (10.6, 15),
           (11.3, 58), (12.4, 42),
           (1.3, 9), (1.6, 13), (1.9, 16), (2.1, 18), (2.4, 20), (2.7, 23), (3.1, 27), (3.4, 31), (3.7, 34),
           (4.0, 39), (4.3, 42), (4.6, 45), (5.0, 47), (5.4, 51), (6.0, 42), (6.5, 35), (7.2, 40), (8.2, 36),
           (8.8, 45), (9.3, 30), (10.0, 36)]
scatter_sets = [pts_1686, pts_1542, pts_1500, pts_1271, pts_1097, pts_1074, pts_1041, pts_673]

x_ticks = [0, 2, 4, 6, 8, 10, 12, 14, 16, 18, 20]
y_ticks = [0, 20, 40, 60, 80, 100, 120]

W, H = 646, 957
fig = plt.figure(figsize=(W / 100, H / 100), dpi=100)
edge = "#444444"


def px_axes(top, bottom, left=58.5, right=637):
    return fig.add_axes([left / W, 1 - bottom / H, (right - left) / W, (bottom - top) / H])


ax_a = px_axes(18, 264)
ax_b = px_axes(339, 585)
ax_c = px_axes(659, 906)

for i in range(8):
    ax_a.plot(feat, freq_curves[i], color=colors[i], lw=0.9, label=labels[i])
    ax_b.plot(feat, amp_curves[i], color=colors[i], lw=0.9)

ax_a.set_ylim(0, 1)
ax_b.set_ylim(0, 1)
for ax, yl in [(ax_a, "Normalized frequency"), (ax_b, "Normalized amplitude")]:
    ax.set_xlim(0, 100)
    ax.set_xticks([])
    ax.set_yticks([])
    ax.set_xlabel("Feature dimension", fontsize=16, labelpad=6)
    ax.set_ylabel(yl, fontsize=16, labelpad=5)
    for s in ax.spines.values():
        s.set_color(edge)
        s.set_linewidth(1.2)

leg = ax_a.legend(loc="upper right", bbox_to_anchor=(0.9706, 0.947), borderaxespad=0,
                  fontsize=13, handlelength=3.8, handletextpad=0.4, labelspacing=0.37,
                  borderpad=0.45, fancybox=False, framealpha=1)
leg.get_frame().set_edgecolor(edge)
leg.get_frame().set_linewidth(1.0)

for i, pts in enumerate(scatter_sets):
    arr = np.array(pts)
    ax_c.scatter(arr[:, 0], arr[:, 1], s=9, color=colors[i], alpha=0.55, linewidths=0)

ax_c.set_xlim(0, 20)
ax_c.set_ylim(0, 120)
ax_c.set_xticks(x_ticks)
ax_c.set_yticks(y_ticks)
ax_c.tick_params(direction="in", top=True, right=True, length=5, width=0.8, labelsize=13, color=edge)
ax_c.tick_params(axis="x", pad=6)
ax_c.tick_params(axis="y", pad=2.5)
ax_c.set_xlabel("Relative amplitude decrease (%)", fontsize=16, labelpad=4)
ax_c.set_ylabel("Frequency rise (Hz)", fontsize=16, labelpad=3)
for s in ax_c.spines.values():
    s.set_color(edge)
    s.set_linewidth(1.2)

fig.text(24 / W, 1 - 15 / H, "a", fontsize=16, family="cmb10", va="baseline")
fig.text(25 / W, 1 - 333 / H, "b", fontsize=16, family="cmb10", va="baseline")
fig.text(6 / W, 1 - 647 / H, "c", fontsize=16, family="cmb10", va="baseline")

fig.savefig("out.png", dpi=100)
